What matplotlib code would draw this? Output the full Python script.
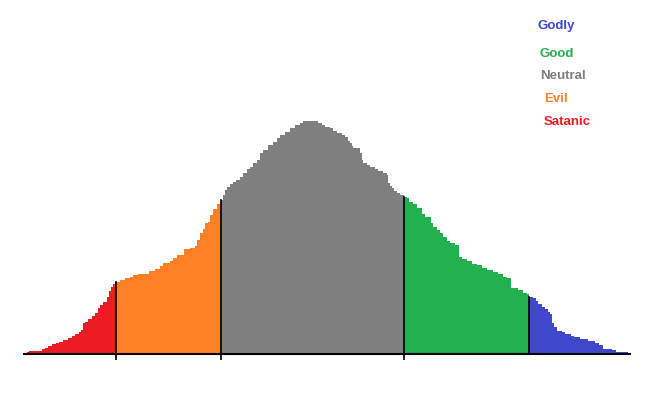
import numpy as np
import matplotlib
matplotlib.use('Agg')
import matplotlib.pyplot as plt

# Data: score (left edge of each step) and count

score = [0, 3, 5, 18, 21, 24, 28, 32, 35, 39, 44, 48, 51, 55, 57, 59, 61, 64,
         68, 71, 74, 76, 79, 83, 85, 87, 89, 91,
         92, 96, 101, 106, 109, 114, 125, 131, 136, 139, 146, 149, 153, 160, 166,
         171, 173, 176, 179, 181, 184, 186, 189, 193, 196,
         197, 199, 201, 203, 206, 209, 212, 216, 219, 223, 226, 229, 233, 236, 239,
         244, 249, 253, 256, 261, 266, 271, 276, 279, 294, 298, 301, 306, 309, 313,
         318, 321, 324, 326, 328, 329, 336, 338, 339, 343, 346, 351, 354, 359, 363,
         364, 366, 368, 370, 373, 376,
         380, 383, 385, 389, 393, 398, 401, 407, 409, 413, 416, 419, 423, 426, 431,
         435, 438, 443, 448, 453, 458, 463, 469, 474, 479, 483, 487, 494, 499, 503,
         505, 509, 512, 514, 518, 521, 524, 526, 528, 530, 533, 538, 541, 547, 550,
         556, 564, 571, 575, 579, 588, 592, 604]
count = [1, 2, 3, 5, 6, 8, 10, 11, 12, 14, 16, 18, 20, 22, 24, 31, 32, 35,
         38, 41, 46, 49, 52, 57, 63, 67, 70, 72,
         72, 74, 76, 77, 79, 80, 83, 85, 88, 91, 93, 96, 99, 105, 106,
         108, 114, 121, 125, 131, 132, 139, 145, 150, 152,
         154, 159, 164, 167, 170, 172, 174, 177, 181, 185, 187, 191, 194, 201, 204,
         209, 212, 216, 219, 222, 226, 229, 231, 233, 231, 229, 227, 226, 223, 221,
         219, 217, 213, 211, 208, 206, 201, 194, 191, 189, 187, 185, 183, 181, 179,
         171, 168, 166, 163, 161, 159,
         157, 156, 152, 150, 146, 140, 137, 131, 127, 124, 121, 117, 113, 111, 109,
         97, 95, 93, 90, 89, 86, 84, 82, 80, 77, 76, 66, 64, 61, 60,
         57, 56, 53, 50, 47, 45, 42, 40, 31, 27, 23, 22, 20, 18, 17,
         15, 13, 11, 9, 5, 4, 2, 1]

bounds = [0, 92, 197, 380, 505, 606]
names = ['Satanic', 'Evil', 'Neutral', 'Good', 'Godly']
colors = ['#ED1C24', '#FF7F27', '#7F7F7F', '#22B14C', '#3F48CC']

score = np.array(score)
count = np.array(count)

fig = plt.figure(figsize=(6.62, 4.16), dpi=100)
ax = fig.add_axes([24/662, (416-354)/416, 606/662, 254/416])

for i in range(len(names)):
    lo, hi = bounds[i], bounds[i+1]
    m = (score >= lo) & (score < hi)
    xs = np.append(score[m], hi)
    ys = np.append(count[m], count[m][-1])
    ax.fill_between(xs, 0, ys, step='post', color=colors[i], linewidth=0)

# black dividers between the groups
for b in bounds[1:-1]:
    h = count[score == b][0]
    ax.plot([b, b], [0, h], color='black', lw=1.2)

ax.set_xlim(0, 606)
ax.set_ylim(0, 254)
for s in ['top', 'right', 'left']:
    ax.spines[s].set_visible(False)
ax.spines['bottom'].set_linewidth(1.5)
ax.set_yticks([])
ax.set_xticks(bounds[1:4])
ax.set_xticklabels([])
ax.tick_params(axis='x', length=4, width=1.2, direction='out')

# legend as coloured labels
lab = [('Godly', 538, 26), ('Good', 540, 54), ('Neutral', 540, 76),
       ('Evil', 544, 99), ('Satanic', 544, 122)]
for (t, px, py) in lab:
    c = colors[names.index(t)]
    fig.text(px/662, 1-py/416, t, color=c, fontsize=9.5, fontweight='bold',
             family='Liberation Sans', va='center', ha='left')

plt.savefig('out.png', dpi=100)
